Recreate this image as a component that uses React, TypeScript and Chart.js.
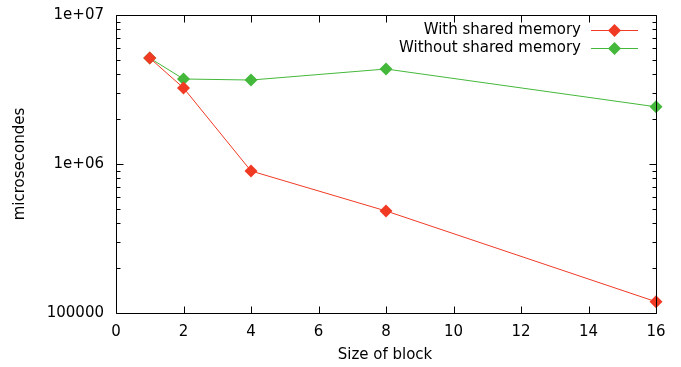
import React, { useEffect, useRef } from "react";
import { Chart, registerables } from "chart.js";

Chart.register(...registerables);

const blockSizes = [1, 2, 4, 8, 16];
const withShared = [5140000, 3240000, 898000, 484000, 119000];
const withoutShared = [5140000, 3720000, 3660000, 4340000, 2420000];
const seriesLabels = ["With shared memory", "Without shared memory"];
const seriesColors = ["#f03a24", "#44b83a"];
const yTickValues = [100000, 1000000, 10000000];
const yTickLabels = ["100000", "1e+06", "1e+07"];
const xTitle = "Size of block";
const yTitle = "microsecondes";

const FS = 15;
const FONT = `${FS}px 'DejaVu Sans'`;

const framePlugin = {
  id: "gnuplotFrame",
  afterDraw(chart: any) {
    const ctx = chart.ctx;
    const { left, right, top, bottom } = chart.chartArea;
    const xs = chart.scales.x;
    const ys = chart.scales.y;
    ctx.save();
    ctx.strokeStyle = "#000";
    ctx.lineWidth = 1;
    ctx.beginPath();
    const L = Math.round(left) + 0.5, R = Math.round(right) + 0.5;
    const T = Math.round(top) + 0.5, B = Math.round(bottom) + 0.5;
    ctx.rect(L, T, R - L, B - T);
    for (let v = 0; v <= 16; v += 2) {
      const px = Math.round(xs.getPixelForValue(v)) + 0.5;
      ctx.moveTo(px, B);
      ctx.lineTo(px, B - 7);
      ctx.moveTo(px, T);
      ctx.lineTo(px, T + 7);
    }
    for (let e = 5; e <= 7; e++) {
      for (let m = 1; m <= 9; m++) {
        const v = m * Math.pow(10, e);
        if (v > 1e7) break;
        const py = Math.round(ys.getPixelForValue(v)) + 0.5;
        const len = m === 1 ? 7 : 4;
        ctx.moveTo(L, py);
        ctx.lineTo(L + len, py);
        ctx.moveTo(R, py);
        ctx.lineTo(R - len, py);
      }
    }
    ctx.stroke();

    ctx.fillStyle = "#000";
    ctx.font = FONT;
    ctx.textAlign = "center";
    ctx.textBaseline = "middle";
    ctx.fillText(xTitle, 385, 355);
    ctx.save();
    ctx.translate(20, 164);
    ctx.rotate(-Math.PI / 2);
    ctx.fillText(yTitle, 0, 0);
    ctx.restore();

    chart.data.datasets.forEach((ds: any, i: number) => {
      const y = 30 + 18 * i;
      ctx.fillStyle = "#000";
      ctx.textAlign = "right";
      ctx.fillText(ds.label, 581, y);
      ctx.strokeStyle = ds.borderColor;
      ctx.beginPath();
      ctx.moveTo(591, y + 0.5);
      ctx.lineTo(638, y + 0.5);
      ctx.stroke();
      const cx = 614.5, r = 6.5;
      ctx.fillStyle = ds.pointBackgroundColor;
      ctx.beginPath();
      ctx.moveTo(cx - r, y + 0.5);
      ctx.lineTo(cx, y + 0.5 - r);
      ctx.lineTo(cx + r, y + 0.5);
      ctx.lineTo(cx, y + 0.5 + r);
      ctx.closePath();
      ctx.fill();
    });
    ctx.restore();
  },
};

export default function App() {
  const ref = useRef<HTMLCanvasElement | null>(null);
  useEffect(() => {
    if (!ref.current) return;
    const mk = (vals: number[], i: number) => ({
      label: seriesLabels[i],
      data: blockSizes.map((x, k) => ({ x, y: vals[k] })),
      borderColor: seriesColors[i],
      backgroundColor: seriesColors[i],
      pointBackgroundColor: seriesColors[i],
      pointBorderColor: seriesColors[i],
      borderWidth: 1,
      pointStyle: "rectRot",
      pointRadius: 6.5,
      pointBorderWidth: 0,
      tension: 0,
      fill: false,
    });
    const chart = new Chart(ref.current, {
      type: "line",
      data: { datasets: [mk(withShared, 0), mk(withoutShared, 1)] as any },
      options: {
        animation: false,
        responsive: false,
        devicePixelRatio: 1,
        layout: { padding: { top: 15, right: 25, left: 0, bottom: 0 } },
        plugins: { legend: { display: false }, tooltip: { enabled: false } },
        clip: false,
        scales: {
          x: {
            type: "linear",
            min: 0,
            max: 16,
            grid: { display: false, drawTicks: false },
            border: { display: false },
            ticks: { stepSize: 2, font: { family: "DejaVu Sans", size: FS }, color: "#000", padding: 10 },
            afterFit: (s: any) => {
              s.height = 54;
              s.paddingLeft = 0;
              s.paddingRight = 0;
            },
          },
          y: {
            type: "logarithmic",
            min: 100000,
            max: 10000000,
            grid: { display: false, drawTicks: false },
            border: { display: false },
            afterBuildTicks: (s: any) => { s.ticks = yTickValues.map((v) => ({ value: v })); },
            ticks: {
              font: { family: "DejaVu Sans", size: FS },
              color: "#000",
              padding: 12,
              callback: (v: any) => {
                const i = yTickValues.indexOf(Number(v));
                return i >= 0 ? yTickLabels[i] : "";
              },
            },
            afterFit: (s: any) => {
              s.width = 116;
              s.paddingTop = 0;
              s.paddingBottom = 0;
            },
          },
        },
      } as any,
      plugins: [framePlugin],
    });
    return () => chart.destroy();
  }, []);
  return (
    <canvas
      ref={ref}
      width={681}
      height={367}
      style={{ position: "fixed", left: 0, top: 0, width: 681, height: 367 }}
    />
  );
}
